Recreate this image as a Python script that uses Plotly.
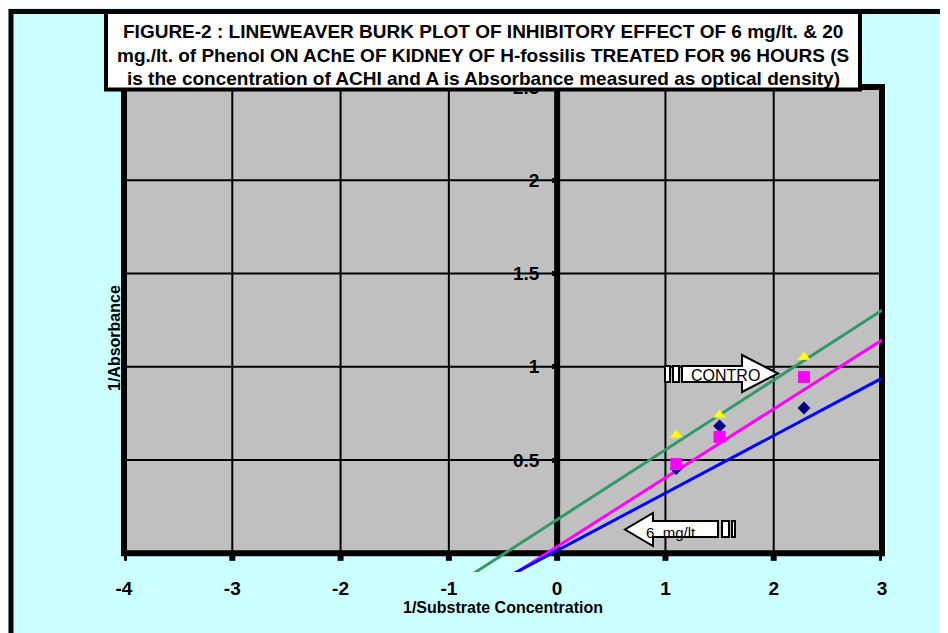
import plotly.graph_objects as go

# ---------------- data ----------------
x_inv_s = [1.1, 1.5, 2.28]                 # 1/Substrate concentration
control_vals = [0.634, 0.741, 1.052]       # yellow triangles
mg20_vals = [0.479, 0.624, 0.945]          # magenta squares
mg6_vals = [0.455, 0.683, 0.779]           # navy diamonds

trend_names = ["Control trend", "20 mg/lt trend", "6 mg/lt trend"]
trend_slopes = [0.374, 0.369, 0.308]
trend_intercepts = [0.181, 0.036, 0.015]
trend_colors = ["#339966", "#FF00FF", "#0000FF"]
trend_x_span = [-1.0, 3.0]

x_ticks = [-4, -3, -2, -1, 0, 1, 2, 3]
y_ticks = [0.5, 1, 1.5, 2, 2.5]
y_tick_text = ["0.5", "1", "1.5", "2", "2.5"]

title_lines = [
    "FIGURE-2 : LINEWEAVER BURK PLOT OF INHIBITORY EFFECT OF 6 mg/lt. &amp; 20",
    "mg./lt. of Phenol ON AChE OF KIDNEY OF H-fossilis TREATED FOR 96 HOURS (S",
    "is the concentration of ACHI and A is Absorbance measured as optical density)",
]

# ---------------- layout geometry ----------------
# page body has an 8px margin, so the figure is 8px smaller than the window
W, H = 940, 625
ML, MR, MT, MB = 116, 66, 79, 61
PW, PH = W - ML - MR, H - MT - MB
SCR_L, SCR_B = 124, 572   # plot left / bottom in screen pixels
XR = [-4, 3]
YR = [-0.1, 2.5]


def px(x):
    """screen x pixel -> paper fraction"""
    return (x - SCR_L) / PW


def py(y):
    """screen y pixel -> paper fraction"""
    return (SCR_B - y) / PH


FONT = "Liberation Sans, Arial, sans-serif"
CYAN = "#CCFFFF"
GRAY = "#C0C0C0"

fig = go.Figure()

# trend lines
for name, m, b, c in zip(trend_names, trend_slopes, trend_intercepts, trend_colors):
    xs = trend_x_span
    ys = [b + m * v for v in xs]
    fig.add_trace(go.Scatter(x=xs, y=ys, mode="lines", name=name,
                             line=dict(color=c, width=3), showlegend=False,
                             hoverinfo="skip"))

# data points
fig.add_trace(go.Scatter(x=x_inv_s, y=mg6_vals, mode="markers", name="6 mg/lt",
                         marker=dict(symbol="diamond", size=10, color="#000080"),
                         showlegend=False))
fig.add_trace(go.Scatter(x=x_inv_s, y=mg20_vals, mode="markers", name="20 mg/lt",
                         marker=dict(symbol="square", size=12, color="#FF00FF"),
                         showlegend=False))
fig.add_trace(go.Scatter(x=x_inv_s, y=control_vals, mode="markers", name="Control",
                         marker=dict(symbol="triangle-up", size=11, color="#FFFF00"),
                         showlegend=False))

shapes = []
y0_dom = (0 - YR[0]) / (YR[1] - YR[0])
# gray plot region
shapes.append(dict(type="rect", xref="x domain", yref="y domain", x0=0, x1=1, y0=y0_dom, y1=1,
                   fillcolor=GRAY, line=dict(width=0), layer="below"))
# grid lines
for xv in x_ticks:
    if xv in (-4, 0, 3):
        continue
    shapes.append(dict(type="line", xref="x", yref="y", x0=xv, x1=xv, y0=0, y1=2.5,
                       line=dict(color="black", width=2), layer="below"))
for yv in y_ticks[:-1]:
    shapes.append(dict(type="line", xref="x", yref="y", x0=-4, x1=3, y0=yv, y1=yv,
                       line=dict(color="black", width=2), layer="below"))
# y axis line at x = 0
shapes.append(dict(type="line", xref="x", yref="y", x0=0, x1=0, y0=0, y1=2.5,
                   line=dict(color="black", width=6), layer="below"))
# plot border
shapes.append(dict(type="rect", xref="x domain", yref="y domain", x0=0, x1=1, y0=y0_dom, y1=1,
                   line=dict(color="black", width=6), layer="below"))
# x tick squares below the border
for xv in x_ticks:
    shapes.append(dict(type="line", xref="x", yref="y", x0=xv, x1=xv, y0=0, y1=-0.04,
                       line=dict(color="black", width=6), layer="below"))


def path_px(pts):
    return "M " + " L ".join(f"{px(a):.5f},{py(b):.5f}" for a, b in pts) + " Z"


# CONTRO block arrow
shapes.append(dict(type="path", xref="paper", yref="paper",
                   path=path_px([(682, 366), (742, 366), (742, 355), (778, 373.5),
                                 (742, 392), (742, 382), (682, 382)]),
                   fillcolor="white", line=dict(color="black", width=2), layer="above"))
for a, b in [(665, 670), (673, 679)]:
    shapes.append(dict(type="rect", xref="paper", yref="paper",
                       x0=px(a), x1=px(b), y0=py(382), y1=py(366),
                       fillcolor="white", line=dict(color="black", width=2), layer="above"))
# 6 mg/lt block arrow
shapes.append(dict(type="path", xref="paper", yref="paper",
                   path=path_px([(718, 521), (653, 521), (653, 513), (625, 529.5),
                                 (653, 546), (653, 537), (718, 537)]),
                   fillcolor="white", line=dict(color="black", width=2), layer="above"))
for a, b in [(722, 729), (732, 735)]:
    shapes.append(dict(type="rect", xref="paper", yref="paper",
                       x0=px(a), x1=px(b), y0=py(537), y1=py(521),
                       fillcolor="white", line=dict(color="black", width=2), layer="above"))

# title box
shapes.append(dict(type="rect", xref="paper", yref="paper",
                   x0=px(106), x1=px(860), y0=py(89.5), y1=py(11),
                   fillcolor="white", line=dict(color="black", width=4), layer="above"))
# outer frame
shapes.append(dict(type="rect", xref="paper", yref="paper",
                   x0=px(11), x1=px(1010), y0=py(700), y1=py(11.5),
                   line=dict(color="black", width=5), layer="above"))

annotations = []
for line, yc in zip(title_lines, [31.5, 55, 78.5]):
    annotations.append(dict(text=line, xref="paper", yref="paper", x=px(483), y=py(yc),
                            xanchor="center", yanchor="middle", showarrow=False,
                            font=dict(family=FONT, size=19, color="black", weight="bold")))
annotations += [
    dict(text="CONTRO", xref="paper", yref="paper", x=px(725), y=py(375),
         xanchor="center", yanchor="middle", showarrow=False,
         font=dict(family=FONT, size=16, color="black")),
    dict(text="6  mg/lt", xref="paper", yref="paper", x=px(671), y=py(532),
         xanchor="center", yanchor="middle", showarrow=False,
         font=dict(family=FONT, size=15, color="black")),
    dict(text="1/Absorbance", xref="paper", yref="paper", x=px(114), y=py(338),
         xanchor="center", yanchor="middle", showarrow=False, textangle=-90,
         font=dict(family=FONT, size=16, color="black", weight="bold")),
]

fig.update_layout(
    width=W, height=H,
    margin=dict(l=ML, r=MR, t=MT, b=MB, pad=0),
    paper_bgcolor=CYAN, plot_bgcolor=CYAN,
    showlegend=False,
    shapes=shapes, annotations=annotations,
    xaxis=dict(range=XR, tickvals=x_ticks, ticktext=[str(v) for v in x_ticks],
               showgrid=False, zeroline=False, showline=False, ticks="",
               ticklabelstandoff=3,
               tickfont=dict(family=FONT, size=19, color="black", weight="bold"),
               title=dict(text="1/Substrate Concentration", standoff=2,
                          font=dict(family=FONT, size=16, color="black", weight="bold")),
               fixedrange=True),
    yaxis=dict(range=YR, tickvals=y_ticks, ticktext=y_tick_text,
               anchor="free", position=4 / 7, side="left",
               showgrid=False, zeroline=False, showline=False,
               ticks="outside", ticklen=5, tickwidth=5, tickcolor="black",
               ticklabelstandoff=9,
               tickfont=dict(family=FONT, size=19, color="black", weight="bold"),
               fixedrange=True),
)

fig.write_html("out.html")
